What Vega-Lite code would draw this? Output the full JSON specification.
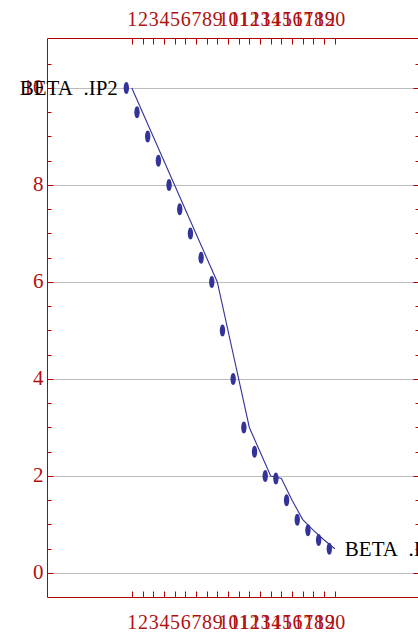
{
  "$schema": "https://vega.github.io/schema/vega-lite/v6.json",
  "width": 372,
  "height": 559,
  "autosize": {"type": "none"},
  "padding": {"left": 47, "top": 38, "right": 0, "bottom": 36},
  "background": "white",
  "config": {
    "view": {"stroke": null},
    "axis": {
      "domainColor": "#b30000",
      "tickColor": "#b30000",
      "labelColor": "#b01010",
      "labelFont": "Liberation Serif",
      "labelFontSize": 20,
      "labelOverlap": false,
      "labelFlush": false,
      "labelBound": false,
      "title": null,
      "gridColor": "#bbbbbb",
      "gridWidth": 1.2,
      "gridOpacity": 1
    }
  },
  "datasets": {
    "series": [
      {"x": 1, "y": 10},
      {"x": 2, "y": 9.5},
      {"x": 3, "y": 9},
      {"x": 4, "y": 8.5},
      {"x": 5, "y": 8},
      {"x": 6, "y": 7.5},
      {"x": 7, "y": 7},
      {"x": 8, "y": 6.5},
      {"x": 9, "y": 6},
      {"x": 10, "y": 5},
      {"x": 11, "y": 4},
      {"x": 12, "y": 3},
      {"x": 13, "y": 2.5},
      {"x": 14, "y": 2},
      {"x": 15, "y": 1.95},
      {"x": 16, "y": 1.5},
      {"x": 17, "y": 1.1},
      {"x": 18, "y": 0.88},
      {"x": 19, "y": 0.68},
      {"x": 20, "y": 0.5}
    ],
    "startLabel": [{"x": 1, "y": 10, "label": "BETA\u00a0 .IP2"}],
    "endLabel": [{"x": 20, "y": 0.5, "label": "BETA\u00a0 .IP2"}]
  },
  "layer": [
    {
      "data": {"name": "series"},
      "mark": {"type": "line", "color": "#333399", "strokeWidth": 1.1},
      "encoding": {
        "x": {"field": "x", "type": "quantitative", "scale": {"domain": [-6.94, 27.88], "nice": false, "zero": false},
          "axis": {"orient": "bottom", "values": [1,2,3,4,5,6,7,8,9,10,11,12,13,14,15,16,17,18,19,20], "tickSize": -6, "labelPadding": 21, "grid": false}},
        "y": {"field": "y", "type": "quantitative", "scale": {"domain": [-0.495, 11.03], "nice": false, "zero": false},
          "axis": {"orient": "left", "values": [0,2,4,6,8,10], "tickSize": -6, "labelPadding": 10, "labelFontSize": 21, "grid": true}}
      }
    },
    {
      "data": {"name": "series"},
      "mark": {"type": "point", "filled": true, "color": "#333399", "opacity": 1, "size": 144, "xOffset": -5.5,
        "shape": "M0,-1 C0.3,-1 0.42,-0.5 0.45,0 C0.42,0.5 0.3,1 0,1 C-0.3,1 -0.42,0.5 -0.45,0 C-0.42,-0.5 -0.3,-1 0,-1Z"},
      "encoding": {
        "x": {"field": "x", "type": "quantitative", "scale": {"domain": [-6.94, 27.88], "nice": false, "zero": false},
          "axis": {"orient": "top", "values": [1,2,3,4,5,6,7,8,9,10,11,12,13,14,15,16,17,18,19,20], "tickSize": -6, "labelPadding": 15, "grid": false}},
        "y": {"field": "y", "type": "quantitative", "scale": {"domain": [-0.495, 11.03], "nice": false, "zero": false},
          "axis": {"orient": "right", "values": [0,2,4,6,8,10], "tickSize": -6, "labels": false, "grid": false}}
      }
    },
    {
      "data": {"name": "startLabel"},
      "mark": {"type": "text", "align": "right", "baseline": "middle", "dx": -14, "dy": 1, "font": "Liberation Serif", "fontSize": 21, "color": "black"},
      "encoding": {
        "x": {"field": "x", "type": "quantitative", "axis": null},
        "y": {"field": "y", "type": "quantitative",
          "axis": {"orient": "left", "values": [0.5,1,1.5,2.5,3,3.5,4.5,5,5.5,6.5,7,7.5,8.5,9,9.5,10.5], "tickSize": -4, "labels": false, "domain": false, "grid": false}},
        "text": {"field": "label"}
      }
    },
    {
      "data": {"name": "endLabel"},
      "mark": {"type": "text", "align": "left", "baseline": "middle", "dx": 10, "dy": 1, "font": "Liberation Serif", "fontSize": 21, "color": "black"},
      "encoding": {
        "x": {"field": "x", "type": "quantitative", "axis": null},
        "y": {"field": "y", "type": "quantitative",
          "axis": {"orient": "right", "values": [0.5,1,1.5,2.5,3,3.5,4.5,5,5.5,6.5,7,7.5,8.5,9,9.5,10.5], "tickSize": -4, "labels": false, "domain": false, "grid": false}},
        "text": {"field": "label"}
      }
    }
  ],
  "resolve": {"axis": {"x": "independent", "y": "independent"}}
}
